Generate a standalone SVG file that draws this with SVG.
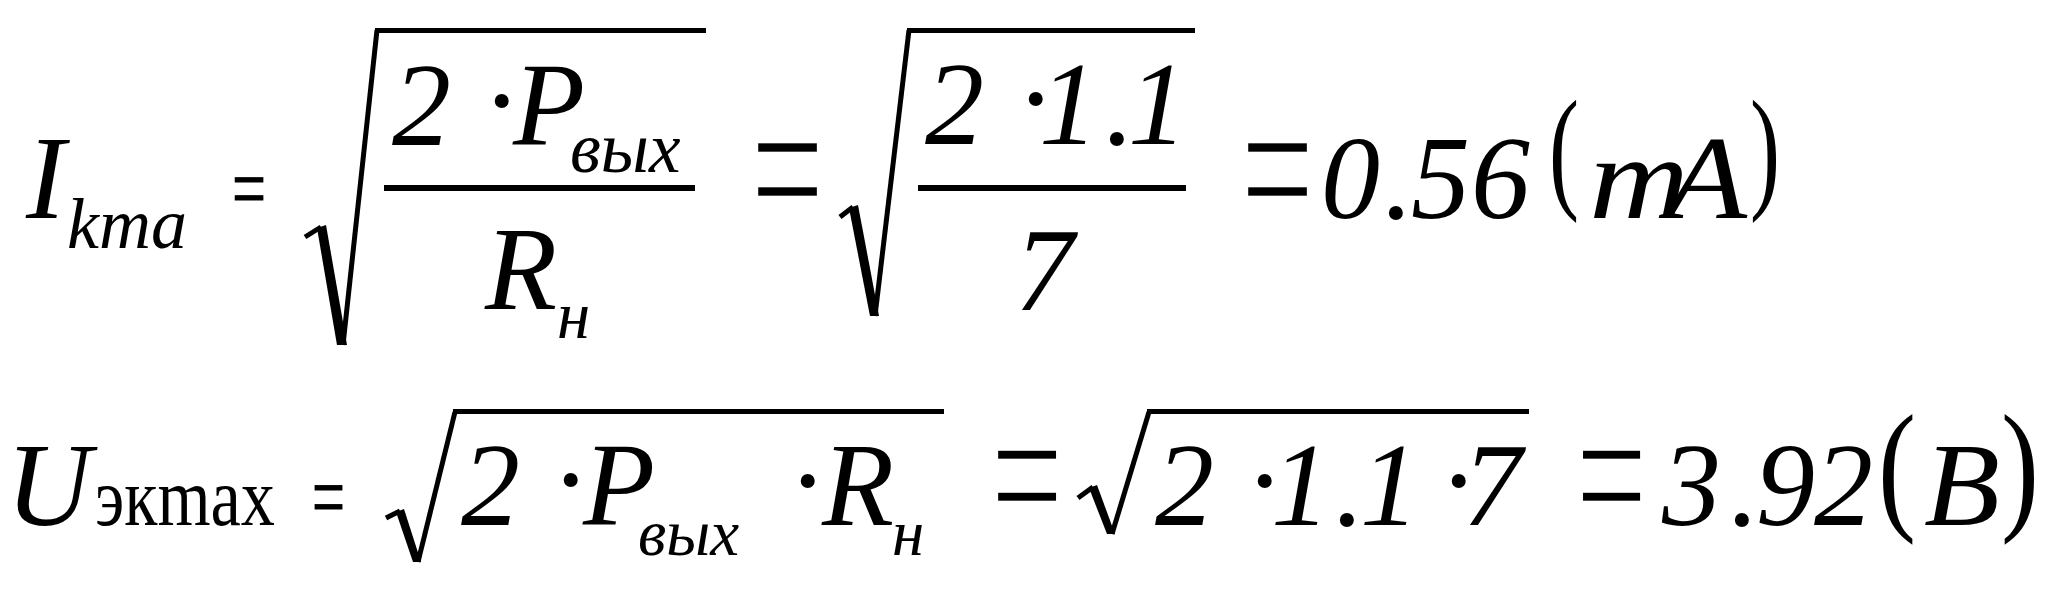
<svg xmlns="http://www.w3.org/2000/svg" width="2048" height="594" viewBox="0 0 2048 594">
<style>
.m{font-family:"Liberation Serif","Times New Roman",serif;font-style:italic;fill:#000}
.r{font-family:"Liberation Serif","Times New Roman",serif;font-style:normal;fill:#000}
.eq{font-family:"Liberation Serif","Times New Roman",serif;font-style:normal;fill:#000;stroke:#000}
.eqb{font-family:"Liberation Serif","Times New Roman",serif;font-style:normal;fill:#000;stroke:#fff;stroke-width:2.5}
.bar{fill:#000}
.rad{fill:none;stroke:#000;stroke-linecap:butt;stroke-linejoin:miter}
</style>
<rect width="2048" height="594" fill="#fff"/>
<g id="row1">
  <g id="lhs1">
    <text class="m" x="26" y="218" font-size="118">I</text>
    <text class="m" x="67" y="248" font-size="72">kma</text>
    <text class="eq" x="232" y="218" font-size="89" stroke-width="0.8" textLength="34" lengthAdjust="spacingAndGlyphs">=</text>
  </g>
  <g id="sqrt1">
    <path class="rad" d="M305,237 L321,227" stroke-width="5"/>
    <path class="bar" d="M317,228 L326,225 L347,345 L337,345 Z"/>
    <path class="rad" d="M343,345 L377,30" stroke-width="5"/>
    <rect class="bar" x="375" y="28" width="331" height="5"/>
  </g>
  <g id="frac1">
    <text class="m" x="392" y="145" font-size="118">2</text>
    <text class="m" x="500" y="140" font-size="118" text-anchor="middle">·</text>
    <text class="m" x="513" y="145" font-size="118">P</text>
    <text class="m" x="570" y="172" font-size="71">вых</text>
    <rect class="bar" x="384" y="185" width="311" height="6"/>
    <text class="m" x="485" y="309" font-size="118">R</text>
    <text class="m" x="557" y="338" font-size="67">н</text>
  </g>
  <text class="eqb" x="751" y="243" font-size="220" textLength="73" lengthAdjust="spacingAndGlyphs">=</text>
  <g id="sqrt2">
    <path class="rad" d="M840,217 L853,207" stroke-width="5"/>
    <path class="bar" d="M849,208 L858,205 L879,316 L870,316 Z"/>
    <path class="rad" d="M875,316 L909,30" stroke-width="5"/>
    <rect class="bar" x="907" y="28" width="288" height="5"/>
  </g>
  <g id="frac2">
    <text class="m" x="925" y="144" font-size="118">2</text>
    <text class="m" x="1034" y="138" font-size="118" text-anchor="middle">·</text>
    <text class="m" x="1039" y="144" font-size="118">1</text>
    <text class="m" x="1105" y="144" font-size="118">.</text>
    <text class="m" x="1128" y="144" font-size="118">1</text>
    <rect class="bar" x="918" y="185" width="268" height="6"/>
    <text class="m" x="1015" y="310" font-size="118">7</text>
  </g>
  <text class="eqb" x="1241" y="243" font-size="220" textLength="73" lengthAdjust="spacingAndGlyphs">=</text>
  <g id="res1">
    <text class="m" x="1321" y="218" font-size="118">0</text>
    <text class="m" x="1384" y="218" font-size="118">.</text>
    <text class="m" x="1411" y="218" font-size="118">5</text>
    <text class="m" x="1471" y="218" font-size="118">6</text>
    <text class="r" x="1549" y="194" font-size="135" textLength="30" lengthAdjust="spacingAndGlyphs">(</text>
    <text class="m" x="1589" y="218" font-size="118" textLength="100" lengthAdjust="spacingAndGlyphs">m</text>
    <text class="m" x="1666" y="218" font-size="118" textLength="81" lengthAdjust="spacingAndGlyphs">A</text>
    <text class="r" x="1750" y="194" font-size="135" textLength="30" lengthAdjust="spacingAndGlyphs">)</text>
  </g>
</g>
<g id="row2">
  <g id="lhs2">
    <text class="m" x="6" y="525" font-size="118">U</text>
    <text class="r" x="95" y="525" font-size="83" textLength="180" lengthAdjust="spacingAndGlyphs">экmax</text>
    <text class="eq" x="312" y="528" font-size="94" stroke-width="0.8" textLength="33" lengthAdjust="spacingAndGlyphs">=</text>
  </g>
  <g id="sqrt3">
    <path class="rad" d="M386,518 L400,511" stroke-width="5"/>
    <path class="bar" d="M396,512 L404,509 L421,562 L413,562 Z"/>
    <path class="rad" d="M418,562 L455,412" stroke-width="5"/>
    <rect class="bar" x="453" y="409" width="491" height="5"/>
  </g>
  <g id="rad3body">
    <text class="m" x="461" y="525" font-size="118">2</text>
    <text class="m" x="569" y="519" font-size="118" text-anchor="middle">·</text>
    <text class="m" x="583" y="525" font-size="118">P</text>
    <text class="m" x="638" y="555" font-size="65">вых</text>
    <text class="m" x="806" y="520" font-size="118" text-anchor="middle">·</text>
    <text class="m" x="822" y="525" font-size="118">R</text>
    <text class="m" x="892" y="555" font-size="65">н</text>
  </g>
  <text class="eqb" x="991" y="546" font-size="210" textLength="72" lengthAdjust="spacingAndGlyphs">=</text>
  <g id="sqrt4">
    <path class="rad" d="M1078,498 L1093,487" stroke-width="5"/>
    <path class="bar" d="M1089,488 L1097,485 L1115,534 L1107,534 Z"/>
    <path class="rad" d="M1112,534 L1149,412" stroke-width="5"/>
    <rect class="bar" x="1147" y="409" width="382" height="5"/>
  </g>
  <g id="rad4body">
    <text class="m" x="1155" y="525" font-size="118">2</text>
    <text class="m" x="1263" y="520" font-size="118" text-anchor="middle">·</text>
    <text class="m" x="1271" y="525" font-size="118">1</text>
    <text class="m" x="1335" y="525" font-size="118">.</text>
    <text class="m" x="1360" y="525" font-size="118">1</text>
    <text class="m" x="1457" y="520" font-size="118" text-anchor="middle">·</text>
    <text class="m" x="1463" y="525" font-size="118">7</text>
  </g>
  <text class="eqb" x="1576" y="546" font-size="210" textLength="71" lengthAdjust="spacingAndGlyphs">=</text>
  <g id="res2">
    <text class="m" x="1662" y="525" font-size="118">3</text>
    <text class="m" x="1730" y="525" font-size="118">.</text>
    <text class="m" x="1756" y="525" font-size="118">9</text>
    <text class="m" x="1814" y="525" font-size="118">2</text>
    <text class="r" x="1878" y="514" font-size="145" textLength="38" lengthAdjust="spacingAndGlyphs">(</text>
    <text class="m" x="1924" y="525" font-size="118" textLength="76" lengthAdjust="spacingAndGlyphs">B</text>
    <text class="r" x="2001" y="514" font-size="145" textLength="38" lengthAdjust="spacingAndGlyphs">)</text>
  </g>
</g>
</svg>
